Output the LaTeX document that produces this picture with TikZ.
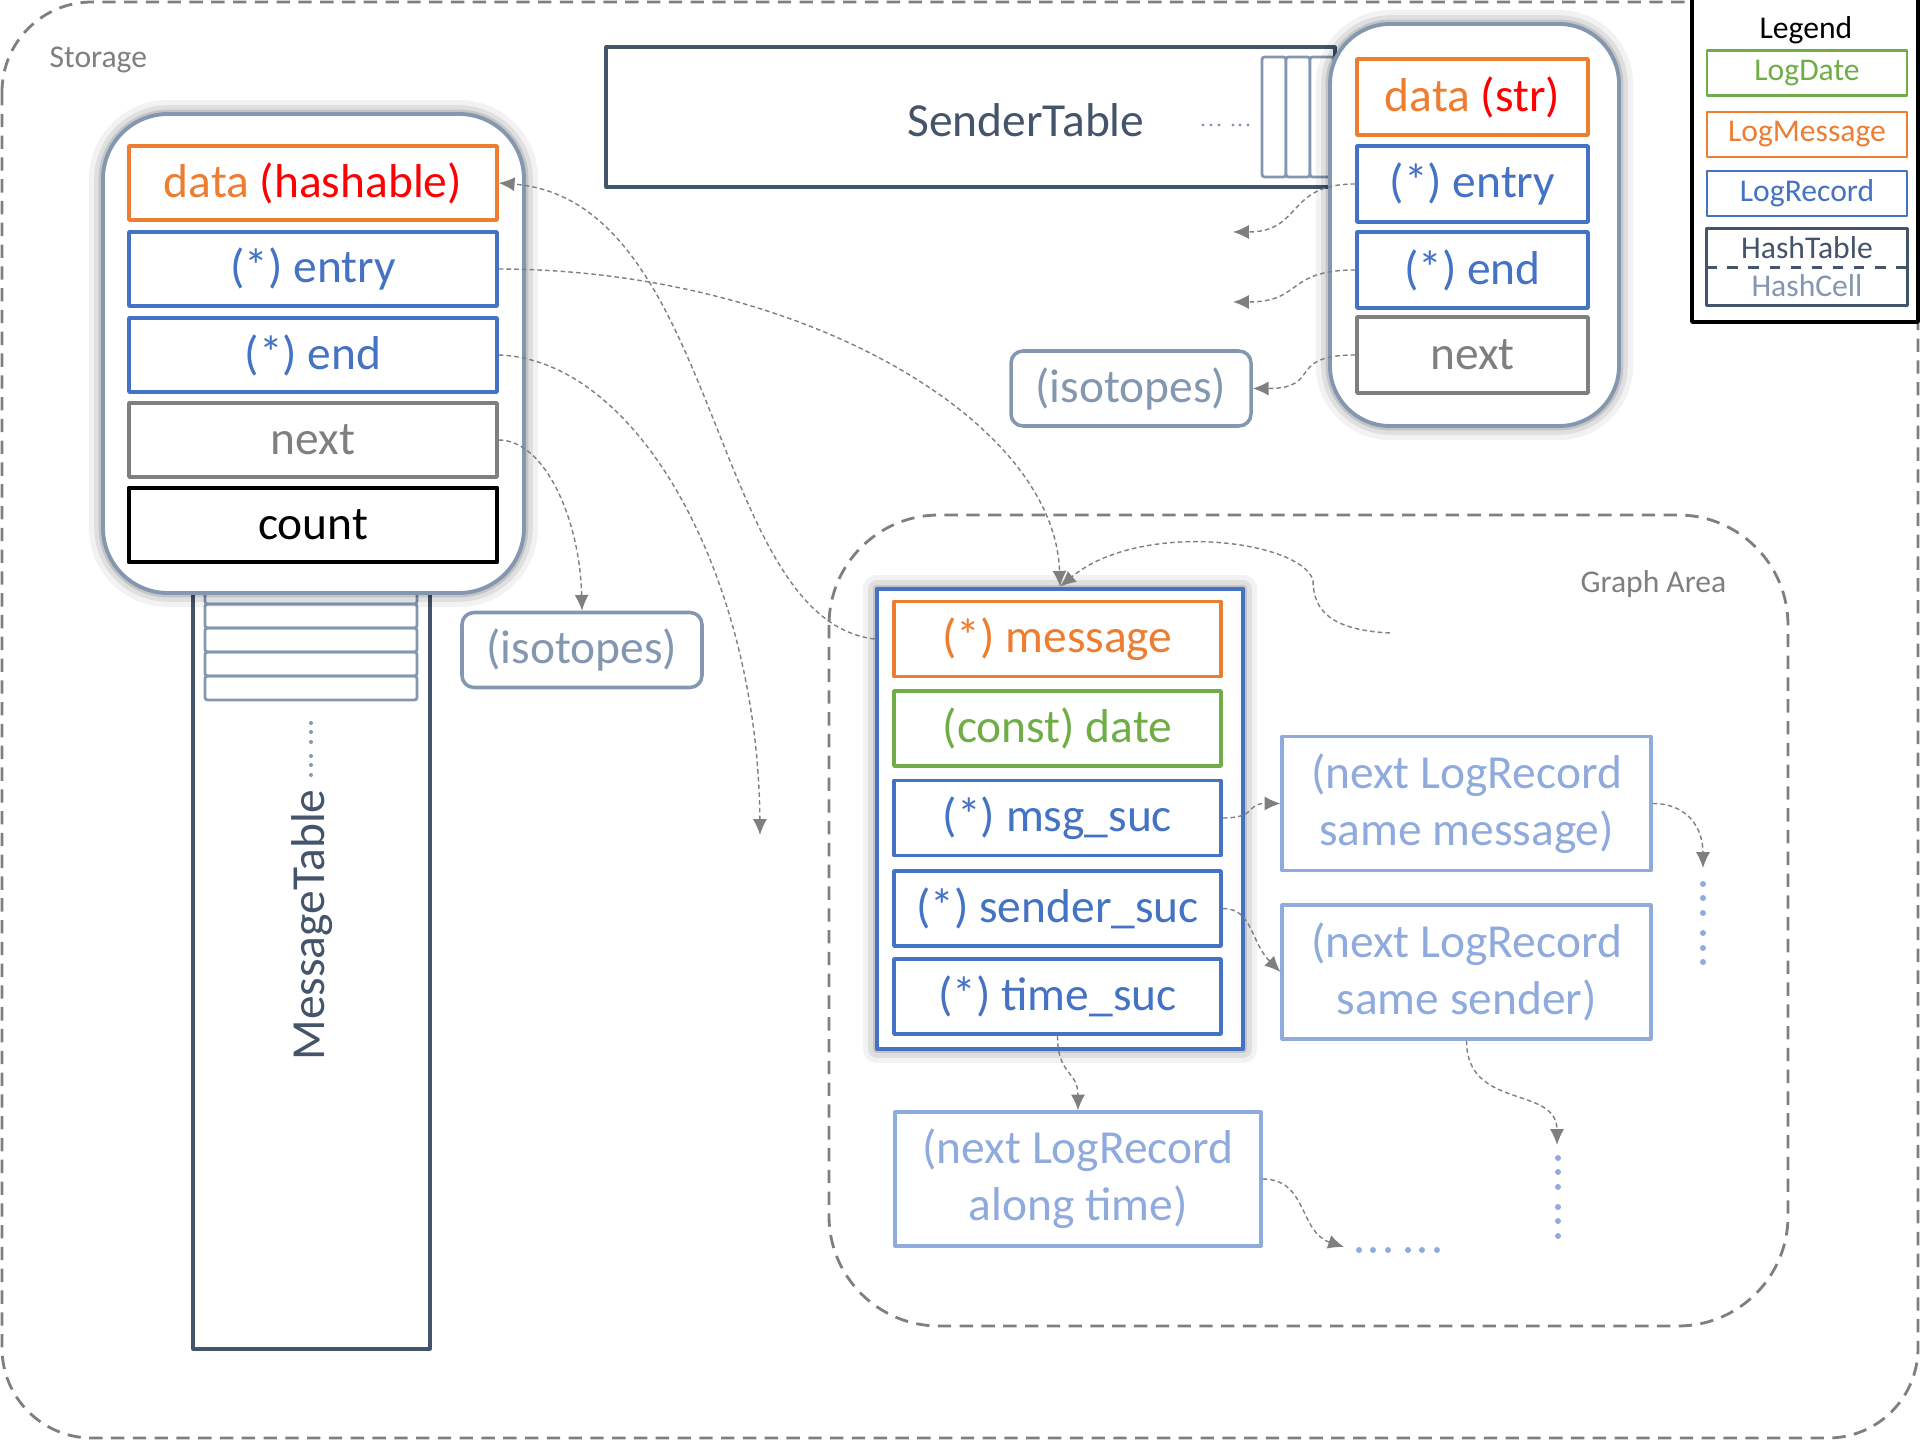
\documentclass[tikz,border=0pt]{standalone}
\usepackage{fontspec}
\setmainfont{Carlito}
\usetikzlibrary{arrows.meta}

\definecolor{cOrange}{HTML}{ED7D31}
\definecolor{cBlue}{HTML}{4472C4}
\definecolor{cGreen}{HTML}{70AD47}
\definecolor{cSlate}{HTML}{44546A}
\definecolor{cSlateL}{HTML}{8497B0}
\definecolor{cSky}{HTML}{8FAADC}
\definecolor{cGray}{HTML}{7F7F7F}

\tikzset{
  bigtxt/.style={font=\fontsize{13.5}{16.2}\selectfont},
  smalltxt/.style={font=\fontsize{9}{10.8}\selectfont},
  field/.style={bigtxt, draw, line width=1pt, fill=white, inner sep=0pt},
  halo/.style={preaction={draw=black, line width=8pt, opacity=.05},
               preaction={draw=black, line width=5pt, opacity=.08},
               preaction={draw=black, line width=2.5pt, opacity=.12}},
  cellbox/.style={draw=cSlateL, line width=1.1pt, fill=white, halo},
  isobox/.style={bigtxt, draw=cSlateL, text=cSlateL, line width=1pt, fill=white,
                 rounded corners=1.2mm, minimum width=24mm, minimum height=7.5mm, inner sep=0pt},
  succbox/.style={bigtxt, draw=cSky, text=cSky, line width=.9pt, align=center,
                  minimum height=13.4mm, inner sep=0pt},
  linkarrow/.style={draw=cGray, line width=.4pt, dash pattern=on 1.3pt off .9pt,
                    -{Latex[length=4.5pt, width=4pt]}},
  arealine/.style={draw=cGray, line width=.8pt, dash pattern=on 3.8pt off 2.4pt},
  lgitem/.style={smalltxt, draw, line width=.8pt, minimum width=20mm, minimum height=4.5mm, inner sep=0pt},
}

\begin{document}
\begin{tikzpicture}[x=.1mm, y=-.1mm, line join=round]
\useasboundingbox (0,0) rectangle (1920,1440);

% Storage
\draw[arealine, rounded corners=9mm] (2,2) rectangle (1918,1438);
\node[smalltxt, text=cGray, anchor=west, inner sep=0pt] (stor) at (49,60) {Storage};

% Legend
\draw[line width=1pt, fill=white] (1692,-10) rectangle (1918,322);
\node[smalltxt] (lgtitle) at (1806,30) {Legend};
\node[lgitem, draw=cGreen, text=cGreen] (lgdate) at (1807,73) {LogDate};
\node[lgitem, draw=cOrange, text=cOrange] (lgmsg) at (1807,134.5) {LogMessage};
\node[lgitem, draw=cBlue, text=cBlue] (lgrec) at (1807,193.5) {LogRecord};
\node[smalltxt, text=cSlate, minimum width=20mm, minimum height=3.8mm, inner sep=0pt] (lgtab) at (1807,248) {HashTable};
\node[smalltxt, text=cSlateL, minimum width=20mm, minimum height=3.8mm, inner sep=0pt] (lgcell) at (1807,286) {HashCell};
\draw[cSlate, line width=.8pt] (lgtab.north west) rectangle (lgcell.south east);
\draw[cSlate, line width=.8pt, dashed] (lgtab.south west) -- (lgtab.south east);

% Graph area
\draw[arealine, rounded corners=11mm] (829,515) rectangle (1788,1326);
\node[smalltxt, text=cGray, anchor=east, inner sep=0pt] (garea) at (1727,584) {Graph Area};

% MessageTable
\draw[cSlate, line width=.9pt] (193,560) rectangle (430,1349);
\foreach \y in {580,604,...,676}
  \draw[cSlateL, line width=.8pt, rounded corners=.25mm] (205,\y) rectangle (417,\y+24);
\foreach \y in {723,732,742,756,765,775}
  \fill[cSlateL] (311,\y) circle(.2mm);
\node[bigtxt, text=cSlate, rotate=90] (mlabel) at (312,925) {MessageTable};

% SenderTable
\draw[cSlate, line width=.9pt] (606,47) rectangle (1335,187);
\foreach \x in {1262,1286,1310}
  \draw[cSlateL, line width=.8pt, rounded corners=.25mm, fill=white] (\x,57) rectangle (\x+24,177);
\foreach \x in {1203,1211,1219,1233,1240,1248}
  \fill[cSlateL] (\x,125) circle(.17mm);
\node[bigtxt, text=cSlate] (slabel) at (1026,120) {SenderTable};

% HashCell of MessageTable
\node[cellbox, rounded corners=6.5mm, minimum width=42.1mm, minimum height=47.9mm] (lcell) at (313.5,353.5) {};
\begin{scope}[every node/.append style={minimum width=36.8mm, minimum height=7.4mm}]
\node[field, draw=cOrange] (ldata) at (313,183) {\textcolor{cOrange}{data} \textcolor{red}{(hashable)}};
\node[field, draw=cBlue, text=cBlue] (lentry) at (313,269) {(*) entry};
\node[field, draw=cBlue, text=cBlue] (lend) at (313,355) {(*) end};
\node[field, draw=cGray, text=cGray] (lnext) at (313,440) {next};
\node[field, draw=black, line width=1.4pt] (lcount) at (313,525) {count};
\end{scope}
\node[isobox] (liso) at (582,650) {(isotopes)};

% HashCell of SenderTable
\node[cellbox, rounded corners=6mm, minimum width=28.9mm, minimum height=40.2mm] (rcell) at (1474.5,225) {};
\begin{scope}[every node/.append style={minimum width=23.1mm, minimum height=7.6mm}]
\node[field, draw=cOrange] (rdata) at (1472.5,97) {\textcolor{cOrange}{data} \textcolor{red}{(str)}};
\node[field, draw=cBlue, text=cBlue] (rentry) at (1472.5,184) {(*) entry};
\node[field, draw=cBlue, text=cBlue] (rend) at (1472.5,270) {(*) end};
\node[field, draw=cGray, text=cGray] (rnext) at (1472.5,355) {next};
\end{scope}
\node[isobox] (riso) at (1131,388.5) {(isotopes)};

% LogRecord
\node[draw=cBlue, line width=1.3pt, fill=white, halo, minimum width=36.6mm, minimum height=46mm] (rec) at (1060,819) {};
\begin{scope}[every node/.append style={minimum width=32.7mm, minimum height=7.5mm}]
\node[field, draw=cOrange, text=cOrange] (msg) at (1057.5,639) {(*) message};
\node[field, draw=cGreen, text=cGreen] (date) at (1057.5,728.5) {(const) date};
\node[field, draw=cBlue, text=cBlue] (msuc) at (1057.5,818) {(*) msg\_suc};
\node[field, draw=cBlue, text=cBlue] (ssuc) at (1057.5,908.5) {(*) sender\_suc};
\node[field, draw=cBlue, text=cBlue] (tsuc) at (1057.5,996.5) {(*) time\_suc};
\end{scope}

% successors
\node[succbox, minimum width=36.9mm] (smsg) at (1466.5,803.5) {(next LogRecord\\same message)};
\node[succbox, minimum width=36.9mm] (ssnd) at (1466.5,972) {(next LogRecord\\same sender)};
\node[succbox, minimum width=36.6mm] (stime) at (1078,1179) {(next LogRecord\\along time)};

% loose ends
\coordinate (ltip) at (760,835);
\coordinate (rtipa) at (1233,232);
\coordinate (rtipb) at (1233,302);
\coordinate (gfree) at (1390,633);
\coordinate (gbend) at (1313,580);
\coordinate (mtip) at (1703,868);
\coordinate (stip) at (1557,1145);
\coordinate (ttip) at (1344,1247);

\foreach \y in {884,898,913,933,948,962}
  \fill[cSky] (1703,\y) circle(.3mm);
\foreach \y in {1158,1172,1187,1207,1221,1236}
  \fill[cSky] (1558,\y) circle(.3mm);
\foreach \x in {1359,1373,1388,1408,1422,1437}
  \fill[cSky] (\x,1250) circle(.3mm);

% pointers of MessageTable cell
\draw[linkarrow] (lentry.east) .. controls (800,270) and (1055,420) .. (rec.north);
\draw[linkarrow] (lend.east) .. controls (640,360) and (758,580) .. (ltip);
\draw[linkarrow] (lnext.east) .. controls (545,440) and (580,520) .. (liso.north);
\draw[linkarrow] (rec.west |- msg) .. controls (710,620) and (720,200) .. (ldata.east);

% pointers of SenderTable cell
\draw[linkarrow] (rentry.west) .. controls +(-70,0) and +(70,0) .. (rtipa);
\draw[linkarrow] (rend.west) .. controls +(-70,0) and +(70,0) .. (rtipb);
\draw[linkarrow] (rnext.west) .. controls +(-70,0) and +(70,0) .. (riso.east);
\draw[linkarrow] (gfree) .. controls (1330,630) and (1313,610) .. (gbend)
  .. controls (1300,540) and (1140,520) .. (rec.north);

% successors of LogRecord
\draw[linkarrow] (msuc.east) .. controls +(35,0) and +(-35,0) .. (smsg.west);
\draw[linkarrow] (ssuc.east) .. controls +(30,0) and +(-30,-30) .. (ssnd.west);
\draw[linkarrow] (tsuc.south) .. controls +(0,40) and +(0,-40) .. (stime.north);
\draw[linkarrow] (smsg.east) .. controls +(35,0) and +(0,-40) .. (mtip);
\draw[linkarrow] (ssnd.south) .. controls +(0,70) and +(0,-60) .. (stip);
\draw[linkarrow] (stime.east) .. controls +(45,0) and +(-45,-15) .. (ttip);

\end{tikzpicture}
\end{document}
